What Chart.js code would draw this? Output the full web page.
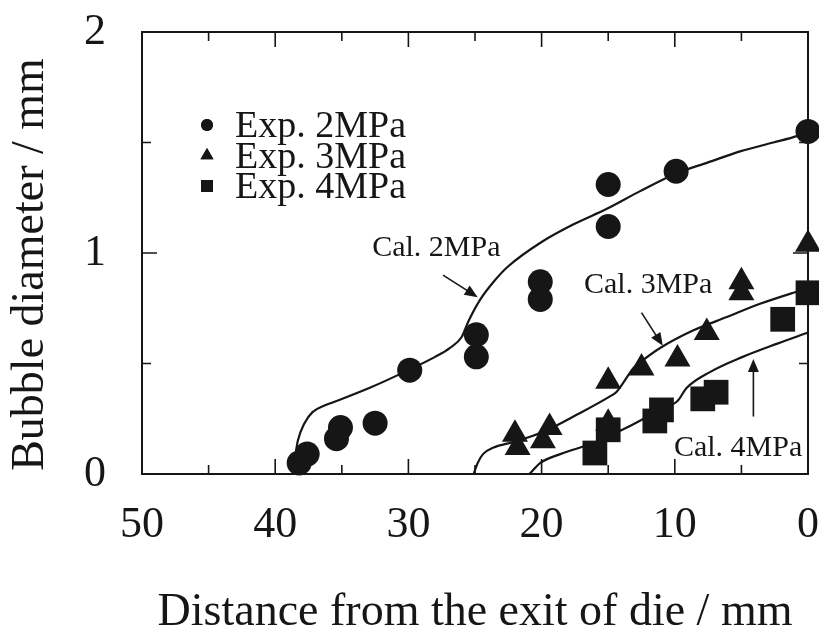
<!DOCTYPE html>
<html><head><meta charset="utf-8">
<script src="https://cdn.jsdelivr.net/npm/chart.js@4/dist/chart.umd.min.js"></script>
<style>html,body{margin:0;padding:0;background:#fff}#wrap{width:819px;height:628px}</style>
</head><body><div id="wrap"><canvas id="c" width="819" height="628"></canvas></div>
<script>
// ---- data ----
const expNames = ['Exp. 2MPa', 'Exp. 3MPa', 'Exp. 4MPa'];
const exp2X = [38.2, 37.6, 35.1, 35.4, 32.5, 29.9, 24.9, 24.9, 20.1, 20.1, 15.0, 15.0, 9.9, 0];
const exp2Y = [0.05, 0.09, 0.21, 0.16, 0.23, 0.47, 0.63, 0.53, 0.87, 0.79, 1.31, 1.12, 1.37, 1.55];
const exp3X = [22.0, 21.8, 19.4, 19.9, 15.0, 15.0, 12.5, 9.8, 7.6, 5.0, 5.0, 0];
const exp3Y = [0.18, 0.12, 0.21, 0.15, 0.42, 0.23, 0.48, 0.52, 0.64, 0.87, 0.82, 1.04];
const exp4X = [16.0, 15.0, 11.5, 11.0, 7.9, 6.9, 1.9, 0];
const exp4Y = [0.095, 0.20, 0.24, 0.29, 0.34, 0.37, 0.70, 0.82];

const calNames = ['Cal. 2MPa', 'Cal. 3MPa', 'Cal. 4MPa'];
const cal2X = [38.7, 38.5, 38.3, 37.8, 37.2, 36.3, 35.4, 32.9, 30.0, 28.0, 26.9, 26.0, 25.5, 24.6, 23.6, 22.5, 20.0, 17.6, 15.1, 12.6, 9.9, 7.5, 5.1, 2.6, 0.8, 0];
const cal2Y = [0.00, 0.08, 0.15, 0.23, 0.28, 0.31, 0.33, 0.39, 0.47, 0.53, 0.57, 0.62, 0.69, 0.79, 0.87, 0.94, 1.05, 1.13, 1.20, 1.28, 1.36, 1.41, 1.46, 1.50, 1.53, 1.55];
const cal3X = [25.1, 24.8, 24.4, 23.6, 22.1, 19.9, 17.3, 14.9, 14.4, 13.9, 13.1, 12.5, 11.1, 8.6, 6.1, 3.6, 1.1, 0];
const cal3Y = [0.00, 0.05, 0.09, 0.12, 0.145, 0.19, 0.27, 0.35, 0.37, 0.41, 0.48, 0.51, 0.57, 0.65, 0.71, 0.77, 0.82, 0.84];
const cal4X = [20.9, 20.6, 20.1, 18.6, 16.1, 13.6, 11.1, 9.8, 9.1, 7.4, 4.9, 2.3, 0];
const cal4Y = [0.00, 0.02, 0.05, 0.09, 0.14, 0.21, 0.29, 0.33, 0.39, 0.46, 0.53, 0.59, 0.64];

const xTickLabels = [50, 40, 30, 20, 10, 0];
const yTickLabels = [0, 1, 2];
const xTitle = 'Distance from the exit of die / mm';
const yTitle = 'Bubble diameter / mm\u2002';

// annotation anchors (data units): label centre, arrow tail, arrow head
const calLabelX = [27.9, 12.0, 5.25];
const calLabelY = [1.02, 0.855, 0.118];
const arrowFromX = [27.4, 12.5, 4.1];
const arrowFromY = [0.90, 0.73, 0.26];
const arrowToX = [24.8, 10.9, 4.1];
const arrowToY = [0.80, 0.58, 0.52];

// ---- helpers ----
const FONT = "'Liberation Serif', 'Times New Roman', serif";
const INK = '#161616';
const pts = (xs, ys) => xs.map((x, i) => ({x: x, y: ys[i]}));
const noPad = s => { s.paddingLeft = 0; s.paddingRight = 0; s.paddingTop = 0; s.paddingBottom = 0; };

const framePlugin = {
  id: 'frame',
  beforeDatasetsDraw(chart) {
    const {ctx, chartArea: a, scales: {x, y}} = chart;
    ctx.save();
    ctx.strokeStyle = INK;
    ctx.lineWidth = 2;
    ctx.strokeRect(a.left, a.top, a.right - a.left, a.bottom - a.top);
    ctx.lineWidth = 1.6;
    ctx.beginPath();
    for (let v = 5; v < 50; v += 5) {
      const px = x.getPixelForValue(v);
      const len = v % 10 === 0 ? 15 : 9;
      ctx.moveTo(px, a.bottom); ctx.lineTo(px, a.bottom - len);
      ctx.moveTo(px, a.top); ctx.lineTo(px, a.top + len);
    }
    for (let v = 0.5; v < 2; v += 0.5) {
      const py = y.getPixelForValue(v);
      const len = Math.abs(v - Math.round(v)) < 1e-9 ? 15 : 9;
      ctx.moveTo(a.left, py); ctx.lineTo(a.left + len, py);
      ctx.moveTo(a.right, py); ctx.lineTo(a.right - len, py);
    }
    ctx.stroke();
    ctx.restore();
  }
};

const annotPlugin = {
  id: 'annot',
  afterDatasetsDraw(chart) {
    const {ctx, scales: {x, y}} = chart;
    ctx.save();
    ctx.fillStyle = INK;
    ctx.strokeStyle = INK;
    ctx.font = '30px ' + FONT;
    ctx.textAlign = 'center';
    ctx.textBaseline = 'middle';
    calNames.forEach((t, i) => {
      ctx.fillText(t, x.getPixelForValue(calLabelX[i]), y.getPixelForValue(calLabelY[i]));
      const x0 = x.getPixelForValue(arrowFromX[i]), y0 = y.getPixelForValue(arrowFromY[i]);
      const x1 = x.getPixelForValue(arrowToX[i]), y1 = y.getPixelForValue(arrowToY[i]);
      const ang = Math.atan2(y1 - y0, x1 - x0);
      const hl = 13, hw = 5.5;
      ctx.lineWidth = 1.6;
      ctx.beginPath();
      ctx.moveTo(x0, y0);
      ctx.lineTo(x1 - Math.cos(ang) * hl * 0.8, y1 - Math.sin(ang) * hl * 0.8);
      ctx.stroke();
      ctx.beginPath();
      ctx.moveTo(x1, y1);
      ctx.lineTo(x1 - Math.cos(ang) * hl - Math.sin(ang) * hw, y1 - Math.sin(ang) * hl + Math.cos(ang) * hw);
      ctx.lineTo(x1 - Math.cos(ang) * hl + Math.sin(ang) * hw, y1 - Math.sin(ang) * hl - Math.cos(ang) * hw);
      ctx.closePath();
      ctx.fill();
    });
    ctx.restore();
  }
};

const legendPlugin = {
  id: 'myLegend',
  afterDraw(chart) {
    const {ctx, chartArea: a} = chart;
    ctx.save();
    ctx.fillStyle = INK;
    ctx.font = '38px ' + FONT;
    ctx.textAlign = 'left';
    ctx.textBaseline = 'alphabetic';
    const baselines = [105, 135.5, 166];
    const styles = ['circle', 'triangle', 'rect'];
    expNames.forEach((t, i) => {
      const by = a.top + baselines[i];
      const mx = a.left + 65, my = by - 12;
      Chart.helpers.drawPoint(ctx, {pointStyle: styles[i], radius: styles[i] === 'rect' ? 8.5 : (styles[i] === 'triangle' ? 7.5 : 6), borderWidth: 0}, mx, my);
      ctx.fill();
      ctx.fillText(t, a.left + 93, by);
    });
    ctx.restore();
  }
};

const expStyles = ['circle', 'triangle', 'rect'];
const expRadius = [12.5, 15, 17.5];
const expData = [pts(exp2X, exp2Y), pts(exp3X, exp3Y), pts(exp4X, exp4Y)];
const calData = [pts(cal2X, cal2Y), pts(cal3X, cal3Y), pts(cal4X, cal4Y)];

const datasets = [];
calData.forEach((d, i) => datasets.push({
  label: calNames[i], data: d, showLine: true, pointRadius: 0, borderColor: INK,
  borderWidth: 2.2, cubicInterpolationMode: 'monotone', fill: false, clip: false
}));
expData.forEach((d, i) => datasets.push({
  label: expNames[i], data: d, showLine: false, pointStyle: expStyles[i], pointRadius: expRadius[i],
  backgroundColor: INK, borderColor: INK, borderWidth: 0, clip: false
}));

new Chart(document.getElementById('c'), {
  type: 'scatter',
  data: {datasets},
  options: {
    responsive: false,
    devicePixelRatio: 1,
    animation: false,
    layout: {autoPadding: false, padding: {left: 0, right: 11, top: 32, bottom: 0}},
    plugins: {legend: {display: false}, tooltip: {enabled: false}},
    scales: {
      x: {
        type: 'linear', reverse: true, min: 0, max: 50,
        grid: {display: false}, border: {display: false},
        ticks: {
          stepSize: 5, autoSkip: false, maxRotation: 0, padding: 17, color: INK,
          font: {family: FONT, size: 44},
          callback: v => xTickLabels.includes(v) ? String(v) : ''
        },
        title: {display: true, text: xTitle, color: INK, font: {family: FONT, size: 46, lineHeight: 1}, padding: {top: 0, bottom: -8}},
        afterFit: s => { s.height = 154; noPad(s); }
      },
      y: {
        type: 'linear', min: 0, max: 2,
        grid: {display: false}, border: {display: false},
        ticks: {
          stepSize: 0.5, autoSkip: false, padding: 28, color: INK,
          font: {family: FONT, size: 44},
          callback: v => yTickLabels.includes(v) ? String(v) : ''
        },
        title: {display: true, text: yTitle, color: INK, font: {family: FONT, size: 46, lineHeight: 1}, padding: {top: 8, bottom: 0}},
        afterFit: s => { s.width = 142; noPad(s); }
      }
    }
  },
  plugins: [framePlugin, annotPlugin, legendPlugin]
});
</script></body></html>
